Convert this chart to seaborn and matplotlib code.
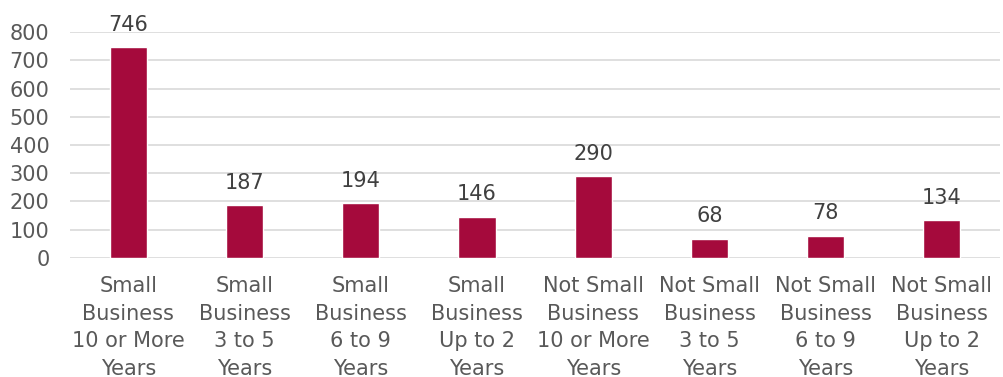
import matplotlib
matplotlib.use("Agg")
import matplotlib.pyplot as plt
import seaborn as sns
import pandas as pd

categories = [
    "Small\nBusiness\n10 or More\nYears",
    "Small\nBusiness\n3 to 5\nYears",
    "Small\nBusiness\n6 to 9\nYears",
    "Small\nBusiness\nUp to 2\nYears",
    "Not Small\nBusiness\n10 or More\nYears",
    "Not Small\nBusiness\n3 to 5\nYears",
    "Not Small\nBusiness\n6 to 9\nYears",
    "Not Small\nBusiness\nUp to 2\nYears",
]
values = [746, 187, 194, 146, 290, 68, 78, 134]
yticks = [0, 100, 200, 300, 400, 500, 600, 700, 800]

sns.set_theme(style="white")
plt.rcParams['font.family'] = ['DejaVu Sans']

df = pd.DataFrame({"cat": categories, "val": values})

fig = plt.figure(figsize=(10.04, 3.77), dpi=100)
ax = fig.add_axes([0.07, 0.316, 0.926, 0.599])
sns.barplot(data=df, x="cat", y="val", color="#A50A3C", saturation=1,
            width=0.32, ax=ax)

ax.set_ylim(0, 800)
ax.set_yticks(yticks)
ax.yaxis.grid(True, color="#D9D9D9", linewidth=1.2)
ax.set_axisbelow(True)
for s in ax.spines.values():
    s.set_visible(False)
ax.set_xlabel("")
ax.set_ylabel("")
ax.tick_params(axis="y", length=0, labelsize=15, labelcolor="#595959", pad=15)
ax.tick_params(axis="x", length=0, labelsize=15, labelcolor="#595959", pad=13)
for lbl in ax.get_xticklabels():
    lbl.set_linespacing(1.48)

for c in ax.containers:
    labels = ax.bar_label(c, fmt="%d", padding=9, fontsize=15, color="#404040")
    for t in labels:
        t.set_clip_on(False)

fig.savefig("out.png", dpi=100)
